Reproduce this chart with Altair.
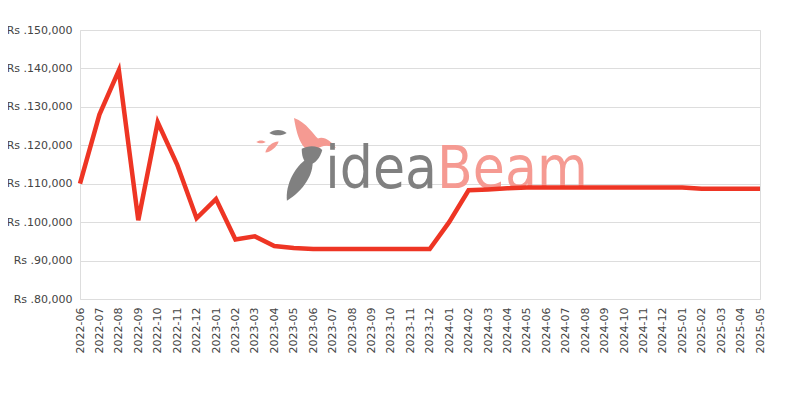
import altair as alt
import pandas as pd

months = [
    "2022-06", "2022-07", "2022-08", "2022-09", "2022-10", "2022-11", "2022-12",
    "2023-01", "2023-02", "2023-03", "2023-04", "2023-05", "2023-06", "2023-07",
    "2023-08", "2023-09", "2023-10", "2023-11", "2023-12", "2024-01", "2024-02",
    "2024-03", "2024-04", "2024-05", "2024-06", "2024-07", "2024-08", "2024-09",
    "2024-10", "2024-11", "2024-12", "2025-01", "2025-02", "2025-03", "2025-04",
    "2025-05",
]
prices = [
    110000, 128000, 139500, 100500, 126000, 115000, 101000,
    106000, 95500, 96300, 93800, 93300, 93000, 93000,
    93000, 93000, 93000, 93000, 93000, 100000, 108300,
    108500, 108800, 109000, 109000, 109000, 109000, 109000,
    109000, 109000, 109000, 109000, 108700, 108700, 108700,
    108700,
]

df = pd.DataFrame({"month": months, "price": prices})

line = alt.Chart(df).mark_line(color="#EE3524", strokeWidth=4.5, strokeJoin="miter").encode(
    x=alt.X(
        "month:O",
        scale=alt.Scale(paddingInner=1, paddingOuter=0, padding=0),
        axis=alt.Axis(
            title=None,
            labelAngle=-90,
            labelAlign="right",
            labelBaseline="middle",
            labelFont="DejaVu Sans",
            labelFontSize=11,
            labelColor="#444444",
            labelPadding=8,
            ticks=False,
            domain=False,
            grid=False,
        ),
    ),
    y=alt.Y(
        "price:Q",
        scale=alt.Scale(domain=[80000, 150000], nice=False, zero=False),
        axis=alt.Axis(
            title=None,
            values=[80000, 90000, 100000, 110000, 120000, 130000, 140000, 150000],
            labelExpr="'Rs .' + format(datum.value, ',')",
            labelFont="DejaVu Sans",
            labelFontSize=11,
            labelColor="#444444",
            labelPadding=8,
            ticks=False,
            domain=False,
            grid=True,
            gridColor="#DDDDDD",
            gridWidth=1,
        ),
    ),
)

# watermark text
wm = pd.DataFrame({"word": ["idea", "Beam"]})
wm_font = "DejaVu Sans Condensed, Roboto, sans-serif"

idea_txt = alt.Chart(wm[wm.word == "idea"]).mark_text(
    font=wm_font, fontSize=58, align="right", baseline="alphabetic",
    color="#808080"
).encode(text="word:N", x=alt.value(357), y=alt.value(158))

beam_txt = alt.Chart(wm[wm.word == "Beam"]).mark_text(
    font=wm_font, fontSize=58, align="left", baseline="alphabetic",
    color="#F59A92"
).encode(text="word:N", x=alt.value(357), y=alt.value(158))

# watermark bird (rough glyphs)
feather = "M0.35,-1 C0.7,-0.4 0.3,0.5 -0.25,1 C-0.45,0.4 -0.25,-0.5 0.35,-1 Z"
wing = ("M-0.75,-1 C-0.2,-0.8 0.05,-0.3 0.25,-0.15 C0.5,-0.25 0.8,-0.05 1,0.25 "
        "C0.65,0.1 0.4,0.15 0.2,0.3 C-0.1,0.5 -0.55,0.35 -0.75,-1 Z")
leaf = "M-1,0 C-0.5,-0.45 0.5,-0.45 1,0 C0.5,0.35 -0.5,0.35 -1,0 Z"
blob = "M-1,-0.6 C-0.3,-1 0.6,-0.9 1,-0.5 C0.8,0.3 0.2,1 -0.4,0.9 C-0.9,0.6 -1,0 -1,-0.6 Z"

logo_parts = pd.DataFrame({"part": ["feather", "body", "wing", "leaf1", "leaf2", "leaf3"]})

def glyph(part, shape, size, color, xpx, ypx, angle=0):
    return alt.Chart(logo_parts[logo_parts.part == part]).mark_point(
        shape=shape, size=size, filled=True, color=color, opacity=1, angle=angle,
        strokeWidth=0
    ).encode(x=alt.value(xpx), y=alt.value(ypx))

logo = [
    glyph("wing", wing, 2300, "#F59A92", 232, 112),
    glyph("body", blob, 420, "#808080", 232, 125),
    glyph("feather", feather, 2400, "#808080", 218, 148, 12),
    glyph("leaf1", leaf, 300, "#808080", 198, 103),
    glyph("leaf2", leaf, 90, "#F59A92", 181, 112),
    glyph("leaf3", leaf, 300, "#F59A92", 192, 117, 320),
]

chart = alt.layer(*logo, idea_txt, beam_txt, line).properties(
    width=680,
    height=269,
    autosize=alt.AutoSizeParams(type="none"),
    padding={"left": 72, "top": 22, "right": 32, "bottom": 93},
).configure_view(stroke="#DDDDDD", strokeWidth=1).configure(background="white")

chart.save("out.html", embed_options={"renderer": "svg", "actions": False})
